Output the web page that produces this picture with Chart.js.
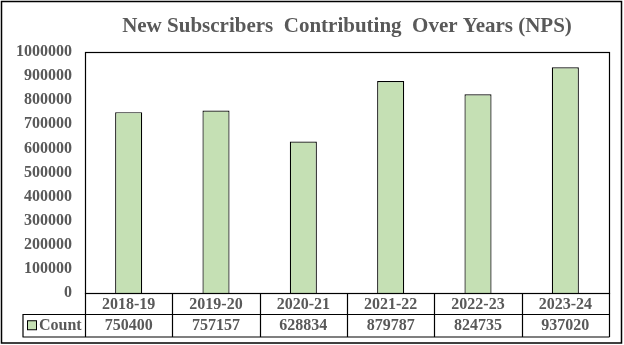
<!DOCTYPE html>
<html>
<head>
<meta charset="utf-8">
<script src="https://cdn.jsdelivr.net/npm/chart.js@4"></script>
<style>
  html, body { margin: 0; padding: 0; background: #fff; }
  #wrap { width: 624px; height: 345px; }
</style>
</head>
<body>
<div id="wrap"><canvas id="subsChart" width="624" height="345"></canvas></div>
<script>
// data
var years = ["2018-19", "2019-20", "2020-21", "2021-22", "2022-23", "2023-24"];
var counts = [750400, 757157, 628834, 879787, 824735, 937020];
var seriesName = "Count";
var chartTitle = "New Subscribers  Contributing  Over Years (NPS)";

var textGrey = "#595959";
var barGreen = "#C5E0B4";
var serif = "'Liberation Serif', 'Times New Roman', serif";

// title, frame, plot box and the data table under the bars
var tablePlugin = {
  id: "tablePlugin",
  afterDraw: function (chart) {
    var ctx = chart.ctx;
    var area = chart.chartArea;
    var xs = chart.scales.x;
    var n = years.length;
    var step = (area.right - area.left) / n;
    var row1Bottom = area.bottom + 21;
    var row2Bottom = area.bottom + 43.5;
    var legendLeft = 22.5;

    ctx.save();
    // outer frame
    ctx.strokeStyle = "#000";
    ctx.lineWidth = 1.5;
    ctx.strokeRect(1.5, 1.5, 620, 341.5);

    // plot box
    ctx.lineWidth = 1.2;
    ctx.strokeRect(area.left + 0.5, area.top + 0.5, area.right - area.left, area.bottom - area.top);

    // table lines
    ctx.beginPath();
    ctx.moveTo(area.left, row1Bottom + 0.5);
    ctx.lineTo(area.right + 0.5, row1Bottom + 0.5);
    ctx.moveTo(legendLeft, row1Bottom + 0.5);
    ctx.lineTo(area.left, row1Bottom + 0.5);
    ctx.moveTo(legendLeft, row2Bottom + 0.5);
    ctx.lineTo(area.right + 0.5, row2Bottom + 0.5);
    ctx.moveTo(legendLeft + 0.5, row1Bottom);
    ctx.lineTo(legendLeft + 0.5, row2Bottom + 0.5);
    for (var i = 0; i <= n; i++) {
      var bx = Math.round(area.left + i * step) + 0.5;
      ctx.moveTo(bx, area.bottom);
      ctx.lineTo(bx, row2Bottom + 0.5);
    }
    ctx.stroke();

    // table text
    ctx.fillStyle = textGrey;
    ctx.font = "bold 16px " + serif;
    ctx.textAlign = "center";
    ctx.textBaseline = "middle";
    for (var j = 0; j < n; j++) {
      var cx = xs.getPixelForValue(j);
      ctx.fillText(years[j], cx, (area.bottom + row1Bottom) / 2 + 1);
      ctx.fillText(String(counts[j]), cx, (row1Bottom + row2Bottom) / 2 + 1);
    }

    // legend key + series name
    var midY = (row1Bottom + row2Bottom) / 2;
    ctx.fillStyle = barGreen;
    ctx.fillRect(27.5, midY - 4.5, 9, 9);
    ctx.strokeStyle = "#000";
    ctx.lineWidth = 1;
    ctx.strokeRect(27.5, midY - 4.5, 9, 9);
    ctx.fillStyle = textGrey;
    ctx.textAlign = "left";
    ctx.fillText(seriesName, 39, midY + 1);

    // title
    ctx.font = "bold 21px " + serif;
    ctx.textAlign = "center";
    ctx.fillText(chartTitle, (area.left + area.right) / 2, 27);
    ctx.restore();
  }
};

var subsChart = new Chart(document.getElementById("subsChart"), {
  type: "bar",
  data: {
    labels: years,
    datasets: [{
      label: seriesName,
      data: counts,
      backgroundColor: barGreen,
      borderColor: "#000",
      borderWidth: 1.2,
      categoryPercentage: 1,
      barPercentage: 0.31
    }]
  },
  options: {
    responsive: false,
    animation: false,
    devicePixelRatio: 1,
    layout: { padding: { left: 0, top: 52, right: 15, bottom: 52 } },
    plugins: {
      legend: { display: false },
      title: { display: false },
      tooltip: { enabled: false }
    },
    scales: {
      x: { display: false, offset: true },
      y: {
        min: 0,
        max: 1000000,
        border: { display: false },
        grid: { display: false, drawTicks: false },
        ticks: {
          stepSize: 100000,
          padding: 13,
          color: textGrey,
          font: { family: serif, size: 16, weight: "bold" },
          callback: function (v) { return String(v); }
        },
        afterFit: function (scale) { scale.width = 85; }
      }
    }
  },
  plugins: [tablePlugin]
});
</script>
</body>
</html>
